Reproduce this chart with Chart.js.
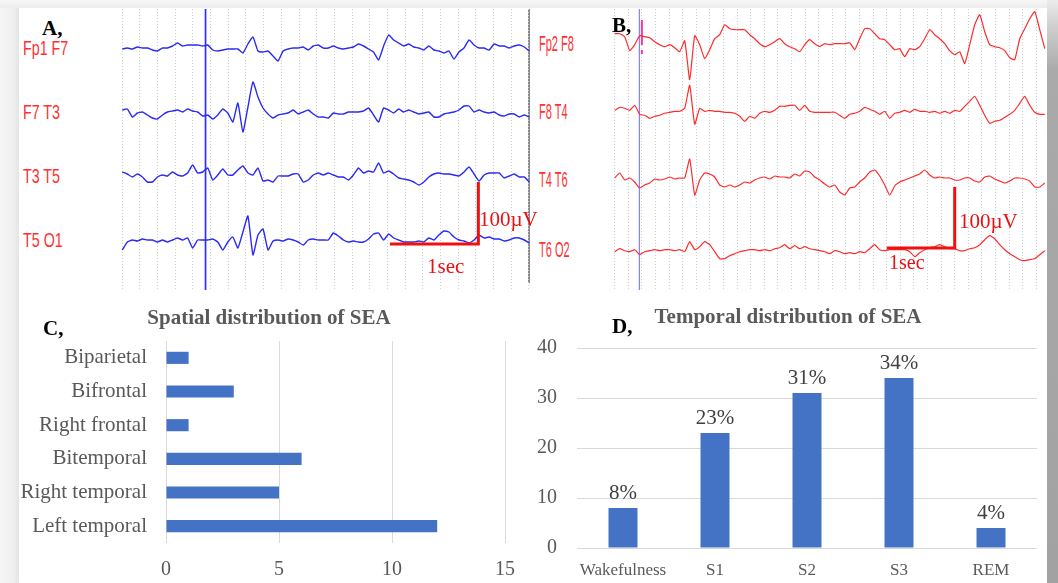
<!DOCTYPE html>
<html>
<head>
<meta charset="utf-8">
<script src="https://cdn.jsdelivr.net/npm/chart.js@4.4.0/dist/chart.umd.min.js"></script>
<style>
  body { margin: 0; width: 1058px; height: 583px; position: relative; overflow: hidden; background: #fff; }
  .box { position: absolute; }
  .txt { position: absolute; line-height: 1; white-space: nowrap; }
  canvas { position: absolute; }
</style>
</head>
<body>
<canvas id="spatial" width="530" height="287" style="left:0;top:296px"></canvas>
<canvas id="temporal" width="517" height="287" style="left:530px;top:296px"></canvas>
<div class="box" style="left:0;top:0;width:19px;height:583px;background:linear-gradient(to right,#f6f6f6,#efefef 70%,#e4e4e4)"></div>
<div class="box" style="left:0;top:0;width:1047px;height:8px;background:linear-gradient(to bottom,#f7f7f7,#ececec)"></div>
<div class="box" style="left:1047px;top:0;width:11px;height:583px;background:linear-gradient(to bottom,#ececec 0,#d2d2d2 4%,#aaaaaa 12%,#a2a2a2)"></div>
<div class="box" style="left:528px;top:9px;width:2px;height:274px;background:#8a8a8a"></div>

<canvas id="eegA" width="424" height="281" style="left:112px;top:9px"></canvas>
<canvas id="eegB" width="442" height="281" style="left:605px;top:9px"></canvas>

<div id="labels"></div>

<script>
// ---------- data ----------
const channelsA = ["Fp1 F7", "F7 T3", "T3 T5", "T5 O1"];
const channelsB = ["Fp2 F8", "F8 T4", "T4 T6", "T6 O2"];

const fp1f7 = [-1, 0, -1, 1, 0, 0, -2, -3, 0, 0, 2, 5, 2, 3, 3, 3, 2, 3, -2, -3,
  -2, -1, -1, -1, -5, 4, 11, -3, -4, -3, -8, -13, -3, -1, 0, 0, 1, -2, 2, 3,
  0, 0, 2, 0, -1, 0, 1, 4, 2, -1, -4, -12, 2, 13, 8, 5, 2, 4, 1, 0,
  -2, 2, -2, -3, -5, -3, -11, -4, 0, 8, 3, 0, 0, -2, 4, 2, 2, 0, 2, 3, 1, -3];
const f7t3 = [2, 3, -5, -1, 0, -3, -6, -7, -3, 0, 1, 2, 0, 3, 1, 0, -4, -3, -7, -3,
  3, -1, -10, 9, -20, 5, 30, 15, 4, -2, -6, -3, -2, -1, 2, -2, 0, 2, -2, -5,
  -5, -6, -1, -2, -2, 0, 0, 0, 1, 4, -3, -10, 4, 2, -1, 3, 0, 2, 0, -2,
  -1, 0, -5, -5, -2, -1, 0, 2, 6, 6, 0, 2, 0, -1, 0, -3, -4, -2, -2, -5, -3, -5];
const t3t5 = [4, 2, -1, 2, -1, -6, -6, -1, 1, 0, 4, 1, 0, 3, 11, 3, 4, 8, -4, 1,
  7, 1, 1, 6, 10, 3, 1, 8, -5, -4, -6, 0, 0, 0, 2, 2, -6, -4, 1, 3,
  1, 3, 1, -1, -1, -4, 1, 8, 3, 5, 4, 13, 3, 5, 2, -2, -3, -4, -6, -9,
  -6, -1, 2, 3, 2, 2, 1, 0, 4, 9, 2, -5, 1, 3, 3, 3, -2, 0, 2, -1, -1, -6];
const t5o1 = [-9, -1, 1, 0, 2, 1, 1, -1, 1, -1, 1, 3, 1, 3, -7, 1, 1, 1, 2, -1,
  -9, -1, 4, -7, 9, 25, -14, 6, 12, -9, 0, 1, 0, 2, 1, -1, -4, 1, 2, 1,
  1, 1, 8, 5, 1, -1, 0, -1, -1, 2, 7, 8, 1, 7, 3, 1, -1, -1, -1, 0,
  -1, 3, 1, 6, 10, 9, 4, 1, 0, -2, 1, 6, 3, 4, 2, 2, 0, 1, 3, 3, 1, -2];

const fp2f8 = [13, 13, 10, -4, 2, 11, 10, 9, 5, 2, 0, 2, -1, -5, 6, -33, 11, 2, -12, -3,
  8, 12, 22, 18, 17, 17, 17, 12, 8, 3, 0, 2, 5, 8, 3, 0, -2, -5, 2, 7,
  3, 0, 3, 2, 3, 3, 3, 4, -3, 8, 18, 18, 13, 8, 7, 2, -3, -2, -10, -2,
  -3, 0, 8, 17, 12, 8, 3, -4, -8, -5, -17, 2, 22, 32, 15, 2, 0, -1, -4, -11,
  -13, 8, 18, 28, 35, 17, -2];
const f8t4 = [3, 6, 5, 3, 8, -1, -2, -5, -3, -2, 0, 1, 2, 2, 5, 28, -11, 5, 2, 3,
  2, 2, 1, 1, 0, -3, -8, -3, -5, 0, 2, 1, 3, 7, 7, 8, 8, 3, 8, 2,
  1, 1, 1, 1, 1, -2, -5, -1, 0, 2, 6, 4, 2, -1, 2, -5, 0, 1, 3, 1,
  4, 2, 2, 1, 2, 0, 2, 0, 3, 2, 7, 12, 17, 8, -2, -10, -8, -7, -4, -1,
  3, 10, 17, 8, 1, -1, -1];
const t4t6 = [2, 7, 0, 2, -2, -8, -5, -3, 1, 0, 1, 3, 1, 2, 2, 21, -15, 0, 7, 6,
  3, -5, -7, -5, -7, -5, -2, -3, 0, 2, 3, 1, 4, 3, 3, 2, 6, 4, 9, 8,
  3, 0, -4, -7, -5, -12, -15, -8, -7, -2, 2, 8, 10, 4, -5, -15, -6, -2, 0, 2,
  4, 6, 10, 5, 2, 3, 2, 2, 0, 0, 2, 2, -1, -2, 3, 4, 1, -1, -3, -1,
  2, 2, 1, -1, -7, -7, -3];
const t6o2 = [0, 3, 1, 0, 2, -3, 0, 1, 2, 1, 2, 2, 1, 2, 0, 10, 2, 5, 10, 7,
  0, -7, -7, -4, -2, 0, 1, 2, 2, 1, 2, 1, 3, 4, 7, 3, 6, 3, 5, 3,
  2, 1, 0, -2, 1, 0, -2, -1, -2, 0, -1, 3, 7, 2, 1, 2, 2, 2, 2, 0,
  -5, -1, 2, 4, 5, 7, 5, 3, 3, 1, 1, 3, 4, 7, 12, 16, 13, 7, 2, -2,
  -5, -8, -9, -8, -7, -3, 1];

const regions = ["Biparietal", "Bifrontal", "Right frontal", "Bitemporal", "Right temporal", "Left temporal"];
const regionCounts = [1, 3, 1, 6, 5, 12];
const stages = ["Wakefulness", "S1", "S2", "S3", "REM"];
const stagePercents = [8, 23, 31, 34, 4];

// ---------- layout ----------
const panelA = { canvasLeft: 112, traceLeft: 122.3, pxPerSec: 88.35, span: 4.607,
  rows: [48, 112, 176, 241], labelRows: [48, 112, 176, 240] };
const panelB = { canvasLeft: 605, traceLeft: 614.7, pxPerSec: 68, span: 6.324,
  rows: [46.7, 113.3, 180, 251.7], labelRows: [44, 112, 180, 250] };
const eegTop = 9, eegHeight = 281;

const labels = document.getElementById("labels");
function addText(text, css) {
  const d = document.createElement("div");
  d.className = "txt";
  d.textContent = text;
  d.style.cssText += css;
  labels.appendChild(d);
}

channelsA.forEach((name, i) => addText(name,
  `left:23px;top:${panelA.labelRows[i]}px;font:21px 'Liberation Sans';color:#ff3030;transform:translateY(-50%) scaleX(0.68);transform-origin:left center;`));
channelsB.forEach((name, i) => addText(name,
  `left:539px;top:${panelB.labelRows[i]}px;font:22px 'Liberation Sans';color:#ff3030;transform:translateY(-50%) scaleX(0.5);transform-origin:left center;`));

addText("A,", "left:42px;top:28px;font:bold 21px 'Liberation Serif';color:#000;transform:translateY(-50%)");
addText("B,", "left:612px;top:25px;font:bold 21px 'Liberation Serif';color:#000;transform:translateY(-50%)");
addText("C,", "left:43px;top:328px;font:bold 21px 'Liberation Serif';color:#000;transform:translateY(-50%)");
addText("D,", "left:612px;top:326px;font:bold 21px 'Liberation Serif';color:#000;transform:translateY(-50%)");
addText("100\u00b5V", "left:479px;top:219px;font:21px 'Liberation Serif';color:#e81010;transform:translateY(-50%)");
addText("1sec", "left:427px;top:266px;font:21px 'Liberation Serif';color:#e81010;transform:translateY(-50%)");
addText("100\u00b5V", "left:959px;top:221px;font:21px 'Liberation Serif';color:#e81010;transform:translateY(-50%)");
addText("1sec", "left:889px;top:262px;font:20px 'Liberation Serif';color:#e81010;transform:translateY(-50%)");
addText("Spatial distribution of SEA", "left:269px;top:317px;font:bold 21px 'Liberation Serif';color:#595959;transform:translate(-50%,-50%)");
addText("Temporal distribution of SEA", "left:788px;top:316px;font:bold 21px 'Liberation Serif';color:#595959;transform:translate(-50%,-50%)");

// cursor, calibration bar and event marker for the EEG pages
const eegMarks = {
  id: "eegMarks",
  beforeDatasetsDraw(chart, args, opts) {
    const { ctx, scales: { x } } = chart;
    const cx = x.getPixelForValue(opts.cursor);
    ctx.save();
    ctx.strokeStyle = opts.cursorColor;
    ctx.lineWidth = opts.cursorWidth;
    ctx.beginPath();
    ctx.moveTo(cx, 0);
    ctx.lineTo(cx, chart.height);
    ctx.stroke();
    if (opts.marker !== undefined) {
      const mx = x.getPixelForValue(opts.marker);
      ctx.strokeStyle = "#ff3399";
      ctx.lineWidth = 2;
      ctx.beginPath();
      ctx.moveTo(mx, 11);
      ctx.lineTo(mx, 36);
      ctx.moveTo(mx, 41);
      ctx.lineTo(mx, 45);
      ctx.stroke();
    }
    ctx.restore();
  },
  afterDatasetsDraw(chart, args, opts) {
    const { ctx, scales: { x, y } } = chart;
    const x0 = x.getPixelForValue(opts.bar.t);
    const x1 = x.getPixelForValue(opts.bar.t + 1);
    const y0 = y.getPixelForValue(opts.bar.v);
    const y1 = y.getPixelForValue(opts.bar.v + opts.bar.h);
    ctx.save();
    ctx.strokeStyle = "#f01010";
    ctx.lineWidth = 3;
    ctx.beginPath();
    ctx.moveTo(x0, y0);
    ctx.lineTo(x1, y0);
    ctx.lineTo(x1, y1);
    ctx.stroke();
    ctx.restore();
  }
};

function eegChart(id, panel, traces, color, width, marks) {
  const canvas = document.getElementById(id);
  const xmin = (panel.canvasLeft - panel.traceLeft) / panel.pxPerSec;
  const xmax = (panel.canvasLeft + canvas.width - panel.traceLeft) / panel.pxPerSec;
  const datasets = traces.map((trace, i) => {
    const offset = eegTop + eegHeight - panel.rows[i];
    return {
      data: trace.map((v, k) => ({ x: k * panel.span / (trace.length - 1), y: v + offset })),
      borderColor: color,
      borderWidth: width,
      pointRadius: 0,
      tension: 0.15
    };
  });
  return new Chart(canvas, {
    type: "line",
    data: { datasets },
    options: {
      responsive: false,
      animation: false,
      layout: { padding: 0 },
      plugins: { legend: { display: false }, tooltip: { enabled: false }, eegMarks: marks },
      scales: {
        x: {
          type: "linear", min: xmin, max: xmax,
          afterBuildTicks: (axis) => {
            const ticks = [];
            for (let k = 0; k * 0.2 <= axis.max; k++) ticks.push({ value: +(k * 0.2).toFixed(3) });
            axis.ticks = ticks;
          },
          afterFit: (s) => { s.height = 0; },
          ticks: { display: false },
          grid: { color: "#cfcfcf", lineWidth: 1, drawTicks: false },
          border: { display: false, dash: [1, 2] }
        },
        y: { display: false, min: 0, max: eegHeight }
      }
    },
    plugins: [eegMarks]
  });
}

eegChart("eegA", panelA, [fp1f7, f7t3, t3t5, t5o1], "#2a2af5", 1.4,
  { cursor: 0.942, cursorColor: "#2e2eff", cursorWidth: 1.7, bar: { t: 3.03, v: 46, h: 62 } });
eegChart("eegB", panelB, [fp2f8, f8t4, t4t6, t6o2], "#ff2a2a", 1.2,
  { cursor: 0.362, cursorColor: "#6a6aff", cursorWidth: 1, marker: 0.40, bar: { t: 4.0, v: 42, h: 61 } });

// ---------- C: spatial distribution ----------
new Chart(document.getElementById("spatial"), {
  type: "bar",
  data: {
    labels: regions,
    datasets: [{ data: regionCounts, backgroundColor: "#4472c4", barPercentage: 0.36, categoryPercentage: 1 }]
  },
  options: {
    indexAxis: "y",
    responsive: false,
    animation: false,
    layout: { padding: { top: 45, right: 24, left: 0, bottom: 0 } },
    plugins: { legend: { display: false }, tooltip: { enabled: false } },
    scales: {
      x: {
        min: 0, max: 15,
        ticks: { stepSize: 5, color: "#595959", font: { family: "Liberation Serif", size: 20 }, padding: 15 },
        grid: { color: "#d9d9d9", drawTicks: false },
        border: { display: false },
        afterFit: (s) => { s.height = 40; }
      },
      y: {
        grid: { display: false },
        border: { display: false },
        ticks: { color: "#595959", font: { family: "Liberation Serif", size: 21 }, padding: 11 },
        afterFit: (s) => { s.width = 166; }
      }
    }
  }
});

// ---------- D: temporal distribution ----------
const percentLabels = {
  id: "percentLabels",
  afterDatasetsDraw(chart) {
    const { ctx } = chart;
    const meta = chart.getDatasetMeta(0);
    ctx.save();
    ctx.font = "21px 'Liberation Serif'";
    ctx.fillStyle = "#404040";
    ctx.textAlign = "center";
    ctx.textBaseline = "alphabetic";
    meta.data.forEach((bar, i) => {
      ctx.fillText(stagePercents[i] + "%", bar.x, bar.y - 9);
    });
    ctx.restore();
  }
};

new Chart(document.getElementById("temporal"), {
  type: "bar",
  data: {
    labels: stages,
    datasets: [{ data: stagePercents, backgroundColor: "#4472c4", barPercentage: 0.315, categoryPercentage: 1 }]
  },
  options: {
    responsive: false,
    animation: false,
    layout: { padding: { top: 52, right: 10, left: 0, bottom: 0 } },
    plugins: { legend: { display: false }, tooltip: { enabled: false } },
    scales: {
      x: {
        grid: { display: false },
        border: { display: false },
        ticks: { color: "#595959", font: { family: "Liberation Serif", size: 17 }, padding: 4,
          maxRotation: 0, minRotation: 0, autoSkip: false },
        afterFit: (s) => { s.height = 35; }
      },
      y: {
        min: 0, max: 40,
        ticks: { stepSize: 10, color: "#595959", font: { family: "Liberation Serif", size: 20 }, padding: 20 },
        grid: { color: "#d9d9d9", drawTicks: false },
        border: { display: false },
        afterFit: (s) => { s.width = 47; }
      }
    }
  },
  plugins: [percentLabels]
});
</script>
</body>
</html>
